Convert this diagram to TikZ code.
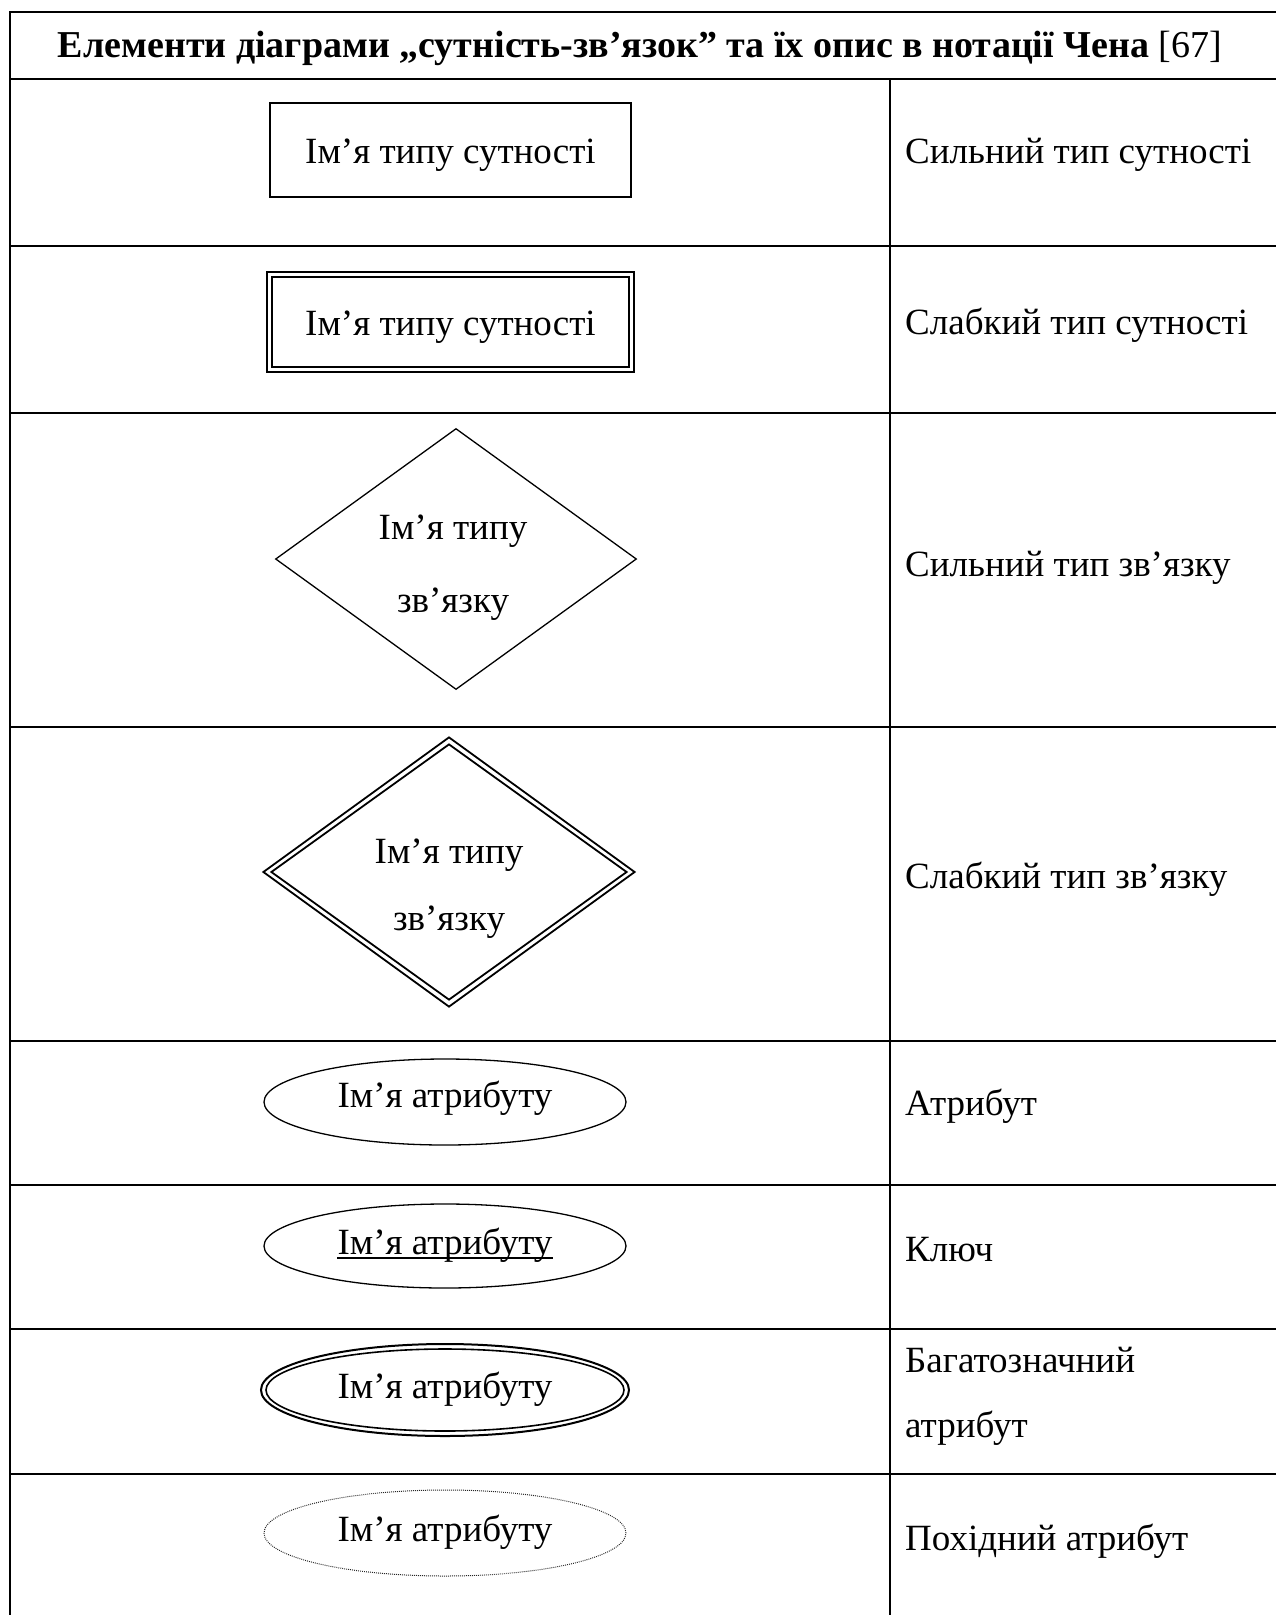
\documentclass[tikz,border=0pt]{standalone}
\usepackage{fontspec}
\setmainfont{Liberation Serif}
\usetikzlibrary{shapes.geometric}
\newcommand\bodyfont{\fontsize{37}{44}\selectfont}
\tikzset{
  grid/.style={line width=2},
  txt/.style={font=\bodyfont, inner sep=0, anchor=base},
  rtxt/.style={font=\bodyfont, inner sep=0, anchor=base west},
  shp/.style={draw, line width=1.3, inner sep=0},
  rhomb/.style={shp, diamond},
  ell/.style={shp, ellipse},
}
\begin{document}
\begin{tikzpicture}[x=1pt,y=-1pt]
\useasboundingbox (0,0) rectangle (1276,1615);
% table grid
\coordinate (tl) at (10,12);
\coordinate (tr) at (1276,12);
\coordinate (bl) at (10,1615);
\coordinate (dtop) at (890,79);
\coordinate (dbot) at (890,1615);
\draw[grid] (tr) -- (tl) -- (bl);
\draw[grid] (dtop) -- (dbot);
\foreach \yy in {79,246,413,727,1041,1185,1329,1474}
  \draw[grid] (10,\yy) -- (1276,\yy);
% header
\node[font=\fontsize{38}{45}\selectfont, inner sep=0, anchor=base] (head) at (640,57)
  {\textbf{Елементи діаграми „сутність-зв’язок” та їх опис в нотації Чена} [67]};
% row 1
\node[shp, rectangle, minimum width=361, minimum height=94] (r1) at (450.5,150) {};
\node[txt] (r1t) at (450.5,163) {Ім’я типу сутності};
\node[rtxt] (d1) at (905,163) {Сильний тип сутності};
% row 2
\node[shp, line width=1.8, rectangle, minimum width=367, minimum height=100] (r2o) at (450.5,322) {};
\node[shp, line width=1.8, rectangle, minimum width=357, minimum height=90] (r2i) at (450.5,322) {};
\node[txt] (r2t) at (450.5,335) {Ім’я типу сутності};
\node[rtxt] (d2) at (905,334) {Слабкий тип сутності};
% row 3
\node[rhomb, minimum width=361, minimum height=261] (r3) at (456,559) {};
\node[txt] (r3a) at (453,539) {Ім’я типу};
\node[txt] (r3b) at (453,612) {зв’язку};
\node[rtxt] (d3) at (905,576) {Сильний тип зв’язку};
% row 4
\node[rhomb, line width=1.8, minimum width=372, minimum height=270] (r4o) at (449,872) {};
\node[rhomb, line width=1.8, minimum width=356, minimum height=256] (r4i) at (449,872) {};
\node[txt] (r4a) at (449,863) {Ім’я типу};
\node[txt] (r4b) at (449,930) {зв’язку};
\node[rtxt] (d4) at (905,888) {Слабкий тип зв’язку};
% row 5
\node[ell, minimum width=362, minimum height=86] (e1) at (445,1102) {};
\node[txt] (e1t) at (445,1107) {Ім’я атрибуту};
\node[rtxt] (d5) at (905,1115) {Атрибут};
% row 6
\node[ell, minimum width=362, minimum height=84] (e2) at (445,1246) {};
\node[txt] (e2t) at (445,1254) {Ім’я атрибуту};
\draw[line width=1.8] ([yshift=-4]e2t.base west) -- ([yshift=-4]e2t.base east);
\node[rtxt] (d6) at (905,1261) {Ключ};
% row 7
\node[ell, line width=2, minimum width=368, minimum height=92] (e3o) at (445,1390) {};
\node[ell, line width=1.6, minimum width=358, minimum height=82] (e3i) at (445,1390) {};
\node[txt] (e3t) at (445,1398) {Ім’я атрибуту};
\node[rtxt] (d7a) at (905,1372) {Багатозначний};
\node[rtxt] (d7b) at (905,1437) {атрибут};
% row 8
\node[ell, draw=black!85, line width=1, dash pattern=on 0.9 off 1.1, minimum width=362, minimum height=86] (e4) at (445,1533) {};
\node[txt] (e4t) at (445,1541) {Ім’я атрибуту};
\node[rtxt] (d8) at (905,1550) {Похідний атрибут};
\end{tikzpicture}
\end{document}
